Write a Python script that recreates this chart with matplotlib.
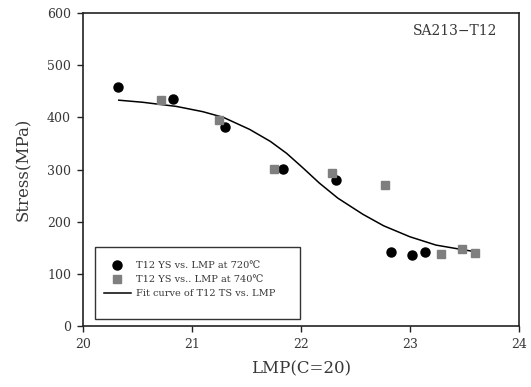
import matplotlib
matplotlib.use("Agg")
import matplotlib.pyplot as plt
from matplotlib.patches import Rectangle

plt.rcParams['font.family'] = ['DejaVu Serif']

# 720C yield strength data
x720 = [20.32, 20.83, 21.30, 21.84, 22.32, 22.83, 23.02, 23.14]
y720 = [458, 435, 381, 301, 280, 142, 136, 142]
# 740C yield strength data
x740 = [20.72, 21.25, 21.75, 22.29, 22.77, 23.29, 23.48, 23.60]
y740 = [433, 395, 301, 293, 270, 138, 147, 140]
# fit curve
xfit = [20.33, 20.55, 20.86, 21.10, 21.29, 21.53, 21.72, 21.87, 22.02, 22.17, 22.34, 22.57, 22.76, 23.00, 23.24, 23.49, 23.61]
yfit = [433, 429, 421, 411, 400, 377, 354, 331, 303, 274, 245, 214, 192, 171, 155, 146, 142]

xticks = [20, 21, 22, 23, 24]
yticks = [0, 100, 200, 300, 400, 500, 600]

fig = plt.figure(figsize=(5.31, 3.87), dpi=100)
ax = fig.add_axes([0.156, 0.158, 0.821, 0.808])

tc = '#383838'
ax.plot(x720, y720, 'o', color='black', markersize=6.5, label='T12 YS vs. LMP at 720\u2103', zorder=3)
ax.plot(x740, y740, 's', color='#7f7f7f', markersize=5.4, label='T12 YS vs.. LMP at 740\u2103', zorder=3)
ax.plot(xfit, yfit, '-', color='black', linewidth=1.1, label='Fit curve of T12 TS vs. LMP', zorder=2)

ax.set_xlim(20, 24)
ax.set_ylim(0, 600)
ax.set_xticks(xticks)
ax.set_yticks(yticks)
for s in ax.spines.values():
    s.set_linewidth(1.2)
    s.set_color('#222222')
ax.tick_params(direction='out', length=4, width=1.0, labelsize=9, colors='#222222', labelcolor=tc, pad=4.5)

ax.set_xlabel('LMP(C=20)', fontsize=12, color=tc, labelpad=7)
ax.set_ylabel('Stress(MPa)', fontsize=12, color=tc, labelpad=11)

ax.text(0.950, 0.942, 'SA213\u2212T12', transform=ax.transAxes, ha='right', va='center', fontsize=10, color=tc)

ax.add_patch(Rectangle((0.0275, 0.022), 0.4705, 0.230, transform=ax.transAxes,
                       fill=True, facecolor='white', edgecolor='#333333', linewidth=1.0, zorder=4))
leg = ax.legend(loc='upper left', bbox_to_anchor=(0.048, 0.206), borderaxespad=0, fontsize=7,
                frameon=False, handlelength=2.8, borderpad=0, labelspacing=0.5, handletextpad=0.5)
leg.set_zorder(5)
for t in leg.get_texts():
    t.set_color(tc)

fig.savefig('out.png', dpi=100)
